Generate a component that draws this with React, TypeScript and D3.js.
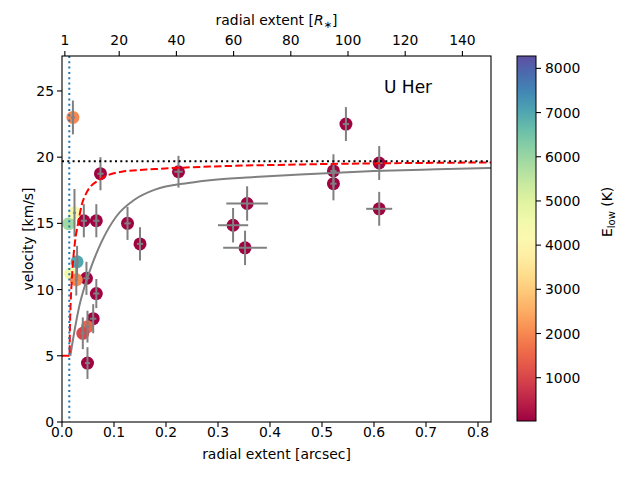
import * as d3 from 'd3';

// observed points
const radius = [0.021, 0.074, 0.224, 0.546, 0.522, 0.522, 0.610, 0.610, 0.356, 0.329, 0.352, 0.126, 0.150, 0.066, 0.042, 0.047, 0.066, 0.060, 0.049, 0.040, 0.049, 0.013, 0.024, 0.029, 0.0167, 0.0275];
const velocity = [23.0, 18.75, 18.9, 22.5, 18.96, 18.0, 19.56, 16.1, 16.5, 14.86, 13.15, 15.0, 13.45, 15.2, 15.2, 10.85, 9.7, 7.8, 7.2, 6.7, 4.45, 14.98, 15.8, 12.1, 11.2, 10.75];
const radiusErr = [0.004, 0.006, 0.008, 0.006, 0.006, 0.006, 0.006, 0.025, 0.04, 0.029, 0.042, 0.006, 0.006, 0.006, 0.006, 0.006, 0.006, 0.006, 0.005, 0.004, 0.005, 0, 0.003, 0.003, 0, 0.003];
const velocityErr = [1.28, 1.25, 1.2, 1.28, 1.26, 1.26, 1.28, 1.28, 1.3, 1.3, 1.3, 1.25, 1.25, 1.25, 1.25, 1.25, 1.1, 1.1, 1.2, 1.2, 1.2, 0, 1.8, 1.2, 0, 1.2];
const eLow = [2000, 50, 50, 50, 50, 50, 50, 50, 50, 50, 50, 50, 50, 50, 50, 50, 50, 50, 1500, 1000, 50, 5900, 4300, 7000, 4600, 2000];

// model curves
const dashedX = [0, 0.0145, 0.015, 0.0167, 0.019, 0.021, 0.025, 0.031, 0.038, 0.047, 0.07, 0.115, 0.179, 0.294, 0.46, 0.65, 0.825];
const dashedV = [5, 5, 6.5, 9.0, 10.8, 12.0, 13.6, 15.0, 16.4, 17.3, 18.25, 18.9, 19.1, 19.3, 19.45, 19.55, 19.6];
const solidX = [0.016, 0.025, 0.033, 0.044, 0.056, 0.076, 0.104, 0.14, 0.179, 0.243, 0.294, 0.37, 0.458, 0.6, 0.72, 0.825];
const solidV = [5.0, 7.1, 8.7, 10.3, 11.7, 13.6, 15.5, 16.8, 17.55, 18.05, 18.3, 18.5, 18.7, 18.95, 19.08, 19.18];

const terminalVelocity = 19.7;
const stellarRadius = 0.014;

const xTicks = [0, 0.1, 0.2, 0.3, 0.4, 0.5, 0.6, 0.7, 0.8];
const yTicks = [0, 5, 10, 15, 20, 25];
const topTicks = [1, 20, 40, 60, 80, 100, 120, 140];
const cbTicks = [1000, 2000, 3000, 4000, 5000, 6000, 7000, 8000];

const font = '"DejaVu Sans", sans-serif';

export default function App() {
  const left = 62, right = 491, top = 56, bottom = 422;
  const x = d3.scaleLinear().domain([0, 0.825]).range([left, right]);
  const xTop = d3.scaleLinear().domain([0, 150]).range([left, right]);
  const y = d3.scaleLinear().domain([0, 27.64]).range([bottom, top]);
  const cb = d3.scaleLinear().domain([20, 8280]).range([421, 56]);
  const color = d3.scaleSequential(d3.interpolateSpectral).domain([20, 8280]);

  const line = d3.line<[number, number]>().x(d => x(d[0])).y(d => y(d[1])).curve(d3.curveMonotoneX);
  const dashedPath = line(dashedX.map((v, i) => [v, dashedV[i]])) || '';
  const solidPath = line(solidX.map((v, i) => [v, solidV[i]])) || '';

  const stops = d3.range(0, 1.0001, 0.05);

  return (
    <svg width={640} height={480} style={{ position: 'absolute', left: 0, top: 0, background: '#fff' }} fontFamily={font}>
      <defs>
        <linearGradient id="spec" x1="0" y1="1" x2="0" y2="0">
          {stops.map(t => <stop key={t} offset={t} stopColor={d3.interpolateSpectral(t)} />)}
        </linearGradient>
        <clipPath id="plot"><rect x={left} y={top} width={right - left} height={bottom - top} /></clipPath>
      </defs>

      <g clipPath="url(#plot)">
        {radius.map((r, i) => (
          <circle key={'p' + i} cx={x(r)} cy={y(velocity[i])} r={6.5} fill={color(eLow[i])} />
        ))}
        {radius.map((r, i) => (
          <g key={'e' + i} stroke="#808080" strokeWidth={2}>
            {velocityErr[i] > 0 && <line x1={x(r)} x2={x(r)} y1={y(velocity[i] - velocityErr[i])} y2={y(velocity[i] + velocityErr[i])} />}
            {radiusErr[i] > 0 && <line x1={x(r - radiusErr[i])} x2={x(r + radiusErr[i])} y1={y(velocity[i])} y2={y(velocity[i])} />}
          </g>
        ))}
        <path d={solidPath} fill="none" stroke="#808080" strokeWidth={2} />
        <path d={dashedPath} fill="none" stroke="#ff0000" strokeWidth={2} strokeDasharray="7.4,3.2" />
        <line x1={left} x2={right} y1={y(terminalVelocity)} y2={y(terminalVelocity)} stroke="#000" strokeWidth={2} strokeDasharray="2,3.3" />
        <line x1={x(stellarRadius)} x2={x(stellarRadius)} y1={top} y2={bottom} stroke="#1f77b4" strokeWidth={2} strokeDasharray="2,3.3" />
      </g>

      <rect x={left} y={top} width={right - left} height={bottom - top} fill="none" stroke="#000" strokeWidth={1.1} />

      {xTicks.map(t => (
        <g key={'x' + t}>
          <line x1={x(t)} x2={x(t)} y1={bottom} y2={bottom + 5} stroke="#000" strokeWidth={1.1} />
          <text x={x(t)} y={437} fontSize={13.9} textAnchor="middle">{t.toFixed(1)}</text>
        </g>
      ))}
      {yTicks.map(t => (
        <g key={'y' + t}>
          <line x1={left - 5} x2={left} y1={y(t)} y2={y(t)} stroke="#000" strokeWidth={1.1} />
          <text x={54} y={y(t)} dy="0.36em" fontSize={13.9} textAnchor="end">{t}</text>
        </g>
      ))}
      {topTicks.map(t => (
        <g key={'t' + t}>
          <line x1={xTop(t)} x2={xTop(t)} y1={top - 5} y2={top} stroke="#000" strokeWidth={1.1} />
          <text x={xTop(t)} y={45} fontSize={13.9} textAnchor="middle">{t}</text>
        </g>
      ))}

      <text x={(left + right) / 2} y={459} fontSize={13.9} textAnchor="middle">radial extent [arcsec]</text>
      <text x={(left + right) / 2} y={25} fontSize={13.9} textAnchor="middle">
        radial extent [<tspan fontStyle="italic">R</tspan><tspan dy={3} fontSize={10}>∗</tspan><tspan dy={-3}>]</tspan>
      </text>
      <text transform={`translate(33,${(top + bottom) / 2}) rotate(-90)`} fontSize={13.9} textAnchor="middle">velocity [km/s]</text>
      <text x={384} y={93} fontSize={17}>U Her</text>

      <rect x={517} y={56} width={19} height={365} fill="url(#spec)" stroke="#000" strokeWidth={1} />
      {cbTicks.map(t => (
        <g key={'c' + t}>
          <line x1={536} x2={541} y1={cb(t)} y2={cb(t)} stroke="#000" strokeWidth={1.1} />
          <text x={545} y={cb(t)} dy="0.36em" fontSize={13.9}>{t}</text>
        </g>
      ))}
      <text transform="translate(612,237) rotate(-90)" fontSize={13.9}>
        E<tspan dy={3} fontSize={10}>low</tspan><tspan dy={-3}> (K)</tspan>
      </text>
    </svg>
  );
}
